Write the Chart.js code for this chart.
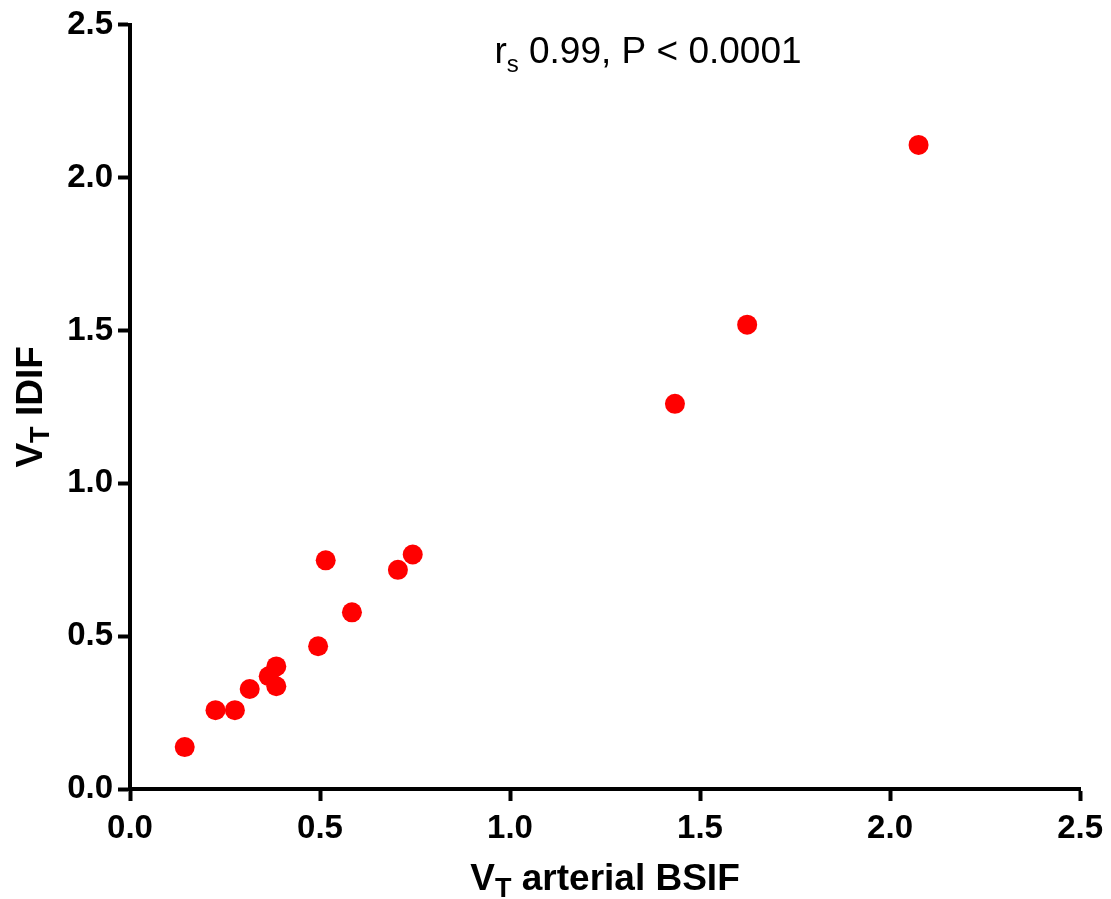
<!DOCTYPE html>
<html>
<head>
<meta charset="utf-8">
<script src="https://cdn.jsdelivr.net/npm/chart.js@4.4.1/dist/chart.umd.min.js"></script>
<style>
  html, body { margin: 0; padding: 0; background: #ffffff; }
  #wrap { width: 1111px; height: 899px; }
</style>
</head>
<body>
<div id="wrap"><canvas id="c" width="1111" height="899"></canvas></div>
<script>
// ---- data ----
const xValues = [0.144, 0.225, 0.276, 0.315, 0.365, 0.385, 0.385, 0.495, 0.515, 0.584, 0.705, 0.744, 1.434, 1.624, 2.075];
const yValues = [0.137, 0.258, 0.258, 0.327, 0.369, 0.401, 0.336, 0.467, 0.748, 0.578, 0.717, 0.767, 1.260, 1.519, 2.107];
const tickValues = [0.0, 0.5, 1.0, 1.5, 2.0, 2.5];
const xTitleParts = [["V", "main"], ["T", "sub"], [" arterial BSIF", "main"]];
const yTitleParts = [["V", "main"], ["T", "sub"], [" IDIF", "main"]];
const annotationParts = [["r", "main"], ["s", "sub"], [" 0.99, P < 0.0001", "main"]];

const points = xValues.map((x, i) => ({ x: x, y: yValues[i] }));
const FONT = '"Liberation Sans", Arial, Helvetica, sans-serif';

function drawParts(ctx, parts, mainFont, subFont, subShift, cx, baseY) {
  let total = 0;
  const widths = parts.map(p => {
    ctx.font = p[1] === "sub" ? subFont : mainFont;
    const w = ctx.measureText(p[0]).width;
    total += w;
    return w;
  });
  let x = cx - total / 2;
  ctx.textAlign = "left";
  ctx.textBaseline = "alphabetic";
  parts.forEach((p, i) => {
    ctx.font = p[1] === "sub" ? subFont : mainFont;
    ctx.fillText(p[0], x, baseY + (p[1] === "sub" ? subShift : 0));
    x += widths[i];
  });
}

const textPlugin = {
  id: "textPlugin",
  afterDraw(chart) {
    const ctx = chart.ctx;
    const area = chart.chartArea;
    ctx.save();
    ctx.fillStyle = "#000000";
    // x axis title
    const cx = (area.left + area.right) / 2;
    drawParts(ctx, xTitleParts, "bold 37px " + FONT, "bold 27px " + FONT, 7, cx, 890);
    // y axis title (rotated)
    const cy = (area.top + area.bottom) / 2;
    ctx.save();
    ctx.translate(42, cy);
    ctx.rotate(-Math.PI / 2);
    drawParts(ctx, yTitleParts, "bold 37px " + FONT, "bold 27px " + FONT, 7, 0, 0);
    ctx.restore();
    // annotation
    const ax = chart.scales.x.getPixelForValue(1.363);
    drawParts(ctx, annotationParts, "37px " + FONT, "24px " + FONT, 9, ax, 63);
    ctx.restore();
  }
};

const axisCommon = {
  type: "linear",
  min: 0,
  max: 2.5,
  border: { display: true, color: "#000000", width: 4 },
  grid: {
    display: true,
    drawOnChartArea: false,
    drawTicks: true,
    tickLength: 12,
    tickColor: "#000000",
    tickWidth: 4
  },
  title: { display: false }
};

new Chart(document.getElementById("c"), {
  type: "scatter",
  data: {
    datasets: [{
      data: points,
      backgroundColor: "#ff0000",
      borderColor: "#ff0000",
      borderWidth: 0,
      pointRadius: 10,
      pointHoverRadius: 10
    }]
  },
  options: {
    responsive: false,
    animation: false,
    devicePixelRatio: 1,
    layout: { padding: { left: 0, right: 29, top: 24, bottom: 0 } },
    plugins: {
      legend: { display: false },
      tooltip: { enabled: false },
      title: { display: false }
    },
    scales: {
      x: Object.assign({}, axisCommon, {
        position: "bottom",
        afterBuildTicks: s => { s.ticks = tickValues.map(v => ({ value: v })); },
        afterFit: s => { s.height = 110; },
        ticks: {
          color: "#000000",
          padding: 8,
          maxRotation: 0,
          font: { family: FONT, size: 33, weight: "bold" },
          callback: v => Number(v).toFixed(1)
        }
      }),
      y: Object.assign({}, axisCommon, {
        position: "left",
        afterBuildTicks: s => { s.ticks = tickValues.map(v => ({ value: v })); },
        afterFit: s => { s.width = 130; },
        ticks: {
          color: "#000000",
          padding: 5,
          font: { family: FONT, size: 33, weight: "bold" },
          callback: v => Number(v).toFixed(1)
        }
      })
    }
  },
  plugins: [textPlugin]
});
</script>
</body>
</html>
